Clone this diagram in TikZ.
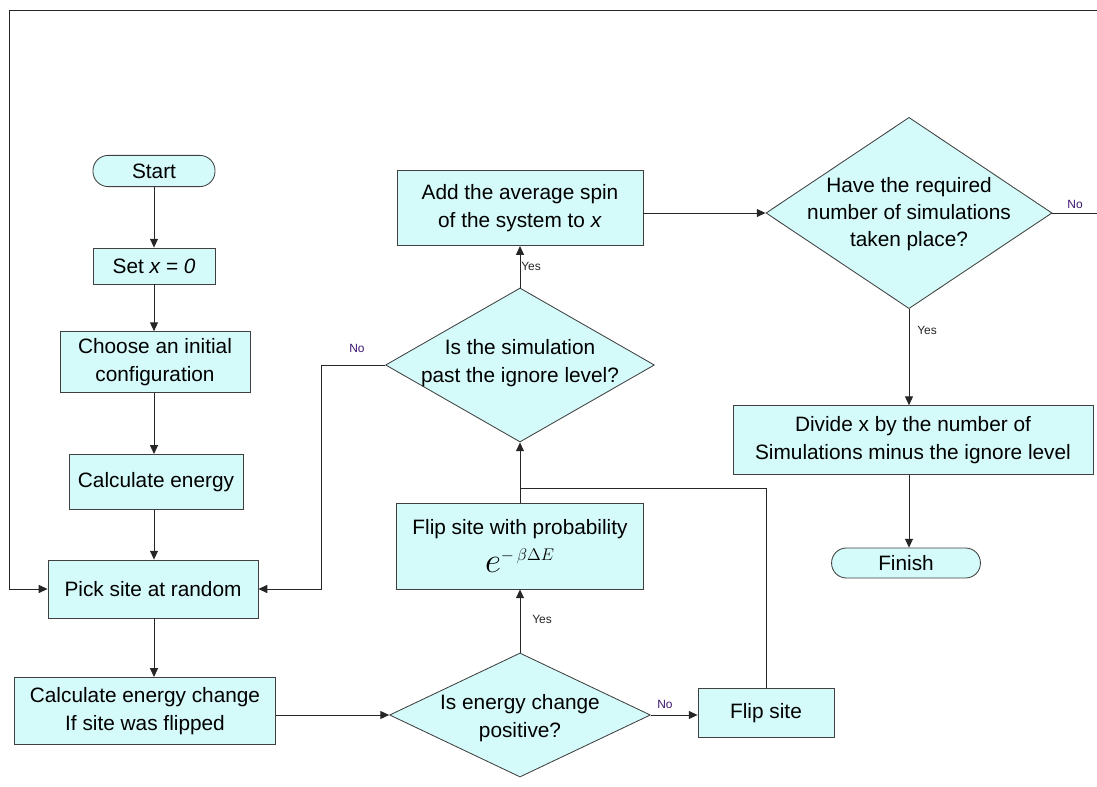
\documentclass[tikz,border=0pt]{standalone}
\usepackage{fontspec}
\setmainfont{Liberation Sans}
\usetikzlibrary{arrows.meta,positioning,calc,shapes.geometric}
\definecolor{boxfill}{RGB}{212,250,250}
\definecolor{noclr}{RGB}{60,20,110}

\begin{document}
\begin{tikzpicture}[x=0.025cm, y=-0.025cm,
	arr/.style={-{Triangle[length=2.2mm, width=2mm]}, line width=0.6pt, black!85},
	ln/.style={line width=0.6pt, black!85},
	box/.style={draw=black!75, fill=boxfill, line width=0.6pt, align=center, inner sep=2pt, font=\fontsize{14.8}{19.4}\selectfont},
	term/.style={box, rounded corners=3.8mm},
	decision/.style={draw=black!75, fill=boxfill, line width=0.6pt, diamond, inner sep=0pt},
	dtext/.style={align=center, font=\fontsize{14.8}{19.4}\selectfont},
	yes/.style={font=\fontsize{8.5}{10}\selectfont, text=black!85},
	no/.style={font=\fontsize{8.5}{10}\selectfont, text=noclr}]
	\useasboundingbox (0,0) rectangle (1097,787);
	% left column
	\node[term, minimum width=3.05cm, minimum height=0.78cm] (start) at (154,171) {Start};
	\node[box, minimum width=3.05cm, minimum height=0.9cm] (setx) at (154,266) {Set \textit{x = 0}};
	\node[box, minimum width=4.75cm, minimum height=1.52cm] (choose) at (155,362) {Choose an initial\\configuration};
	\node[box, minimum width=4.35cm, minimum height=1.38cm] (energy) at (156,482) {Calculate energy};
	\node[box, minimum width=5.25cm, minimum height=1.45cm] (pick) at (153,589) {Pick site at random};
	\node[box, minimum width=6.52cm, minimum height=1.68cm] (dE) at (145,711) {Calculate energy change\\If site was flipped};
	% middle column
	\node[decision, minimum width=6.52cm, minimum height=3.1cm] (q1) at (520,715) {};
	\node[dtext] (q1t) at (520,718) {Is energy change\\positive?};
	\node[box, minimum width=3.4cm, minimum height=1.22cm] (flip) at (766,713) {Flip site};
	\node[box, minimum width=6.18cm, minimum height=2.15cm] (flipP) at (520,546) {Flip site with probability\\[6pt]{\fontsize{24}{24}\selectfont$e^{\scriptscriptstyle -\,\beta\Delta E}$}};
	\node[decision, minimum width=6.72cm, minimum height=3.85cm] (q2) at (520,365) {};
	\node[dtext] (q2t) at (520,363) {Is the simulation\\past the ignore level?};
	\node[box, minimum width=6.15cm, minimum height=1.88cm] (avg) at (520,208) {Add the average spin\\of the system to \textit{x}};
	% right column
	\node[decision, minimum width=7.15cm, minimum height=4.78cm] (q3) at (909,213) {};
	\node[dtext] (q3t) at (909,214) {Have the required\\number of simulations\\taken place?};
	\node[box, minimum width=9cm, minimum height=1.72cm] (divide) at (913,440) {Divide x by the number of\\Simulations minus the ignore level};
	\node[term, minimum width=3.72cm, minimum height=0.75cm, rounded corners=3.7mm] (finish) at (906,563) {Finish};
	\coordinate (join) at (520,488);
	\coordinate (loopR) at (1099,213);
	\coordinate (loopTL) at (9,10);
	% labels
	\node[no] (no3) at (1075,204) {No};
	\node[yes] (yes3) at (927,330) {Yes};
	\node[yes] (yes2) at (531,266) {Yes};
	\node[no] (no2) at (357,348) {No};
	\node[yes] (yes1) at (542,619) {Yes};
	\node[no] (no1) at (665,704) {No};
	% connectors
	\draw[arr] (start) -- (start |- setx.north);
	\draw[arr] (setx) -- (setx |- choose.north);
	\draw[arr] (choose.south -| setx) -- (setx |- energy.north);
	\draw[arr] (energy.south -| setx) -- (setx |- pick.north);
	\draw[arr] (pick.south -| setx) -- (setx |- dE.north);
	\draw[arr] (dE.east |- q1.west) -- (q1.west);
	\draw[arr] (q1.east) -- (q1.east -| flip.west);
	\draw[arr] (q1.north) -- (q1.north |- flipP.south);
	\draw[arr] (flipP.north) -- (flipP.north |- q2.south);
	\draw[ln] (flip.north) |- (join);
	\draw[arr] (q2.west) -- ++(-64,0) |- (pick.east);
	\draw[arr] (q2.north) -- (q2.north |- avg.south);
	\draw[arr] (avg.east |- q3.west) -- (q3.west);
	\draw[arr] (q3.south) -- (q3.south |- divide.north);
	\draw[arr] (divide.south -| q3) -- (q3 |- finish.north);
	\draw[arr] (q3.east) -- (loopR) |- (loopTL) |- (pick.west);
\end{tikzpicture}
\end{document}
